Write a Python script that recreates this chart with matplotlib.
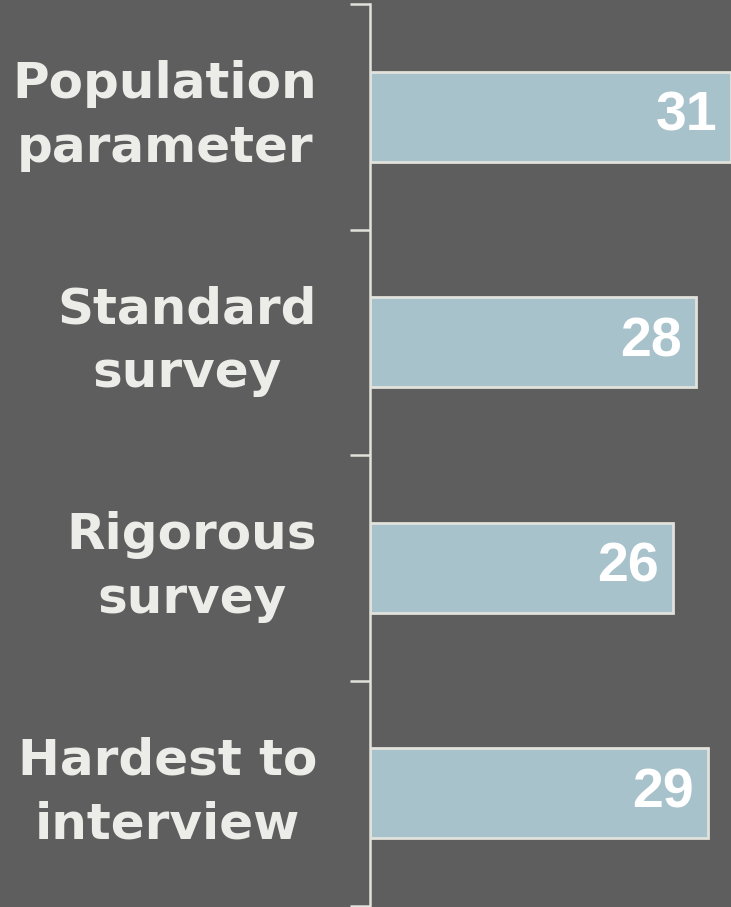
import matplotlib
matplotlib.use("Agg")
import matplotlib.pyplot as plt
import matplotlib.transforms as mtransforms
import numpy as np

categories = ["Population\nparameter", "Standard\nsurvey", "Rigorous\nsurvey", "Hardest to\ninterview"]
values = [31, 28, 26, 29]

bg = "#5e5e5e"
bar_color = "#a8c2cb"
edge_color = "#e2e2dc"
label_color = "#ecece8"

plt.rcParams['font.family'] = ['Liberation Sans', 'DejaVu Sans']

fig = plt.figure(figsize=(7.31, 9.07), dpi=100, facecolor=bg)
ax = fig.add_axes([370 / 731, 1 / 907, 361 / 731, 902 / 907], facecolor=bg)

y = np.arange(len(categories))
ax.barh(y, values, height=0.4, color=bar_color, edgecolor=edge_color, linewidth=2)

for yi, v in zip(y, values):
    ax.text(v - 1.2, yi, str(v), ha="right", va="center", color="white",
            fontsize=40, fontweight="bold")

ax.set_xlim(0, 31)
ax.set_ylim(len(categories) - 0.5, -0.5)

# category labels sit between the boundary ticks
ax.set_yticks(y)
ax.set_yticklabels(categories, fontsize=36, fontweight="bold", color=label_color,
                   family="DejaVu Sans", multialignment="center", linespacing=1.42)
ax.tick_params(axis="y", which="major", length=0, pad=38)
ax.set_yticks(np.arange(len(categories) + 1) - 0.5, minor=True)
ax.tick_params(axis="y", which="minor", length=14.5, width=1.8, color=edge_color)
ax.set_xticks([])

# nudge the two-line labels up a little
shift = mtransforms.ScaledTranslation(0, 0.14, fig.dpi_scale_trans)
for lab in ax.get_yticklabels():
    lab.set_transform(lab.get_transform() + shift)

for side in ["top", "right", "bottom"]:
    ax.spines[side].set_visible(False)
ax.spines["left"].set_color(edge_color)
ax.spines["left"].set_linewidth(1.8)

fig.savefig("out.png", dpi=100, facecolor=bg)
